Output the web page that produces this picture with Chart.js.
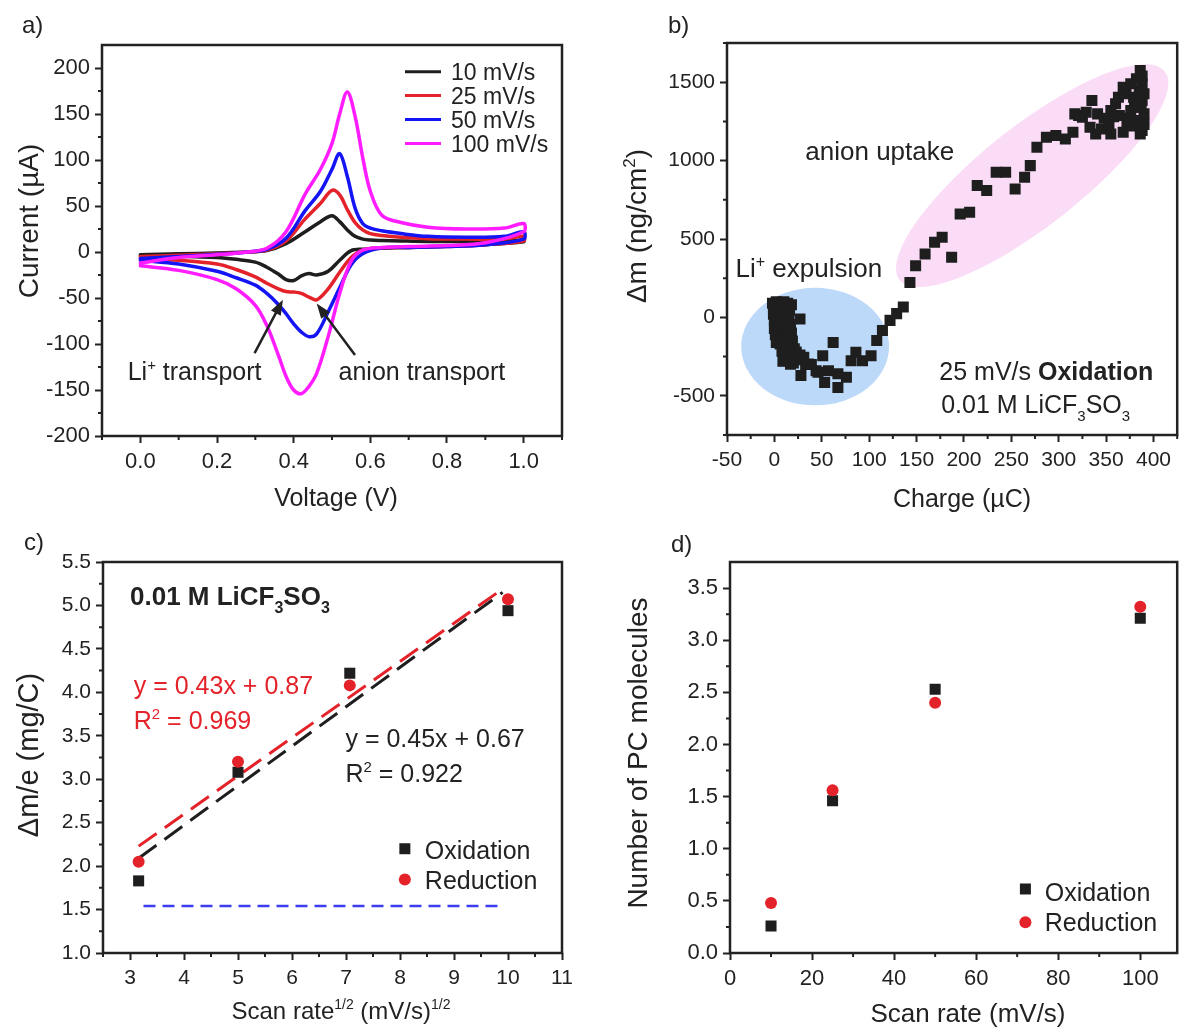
<!DOCTYPE html>
<html lang="en">
<head>
<meta charset="UTF-8">
<title>LiCF3SO3 EQCM panels</title>
<script src="https://cdn.jsdelivr.net/npm/chart.js"></script>
<style>
  body { margin: 0; background: #fff; font-family: 'Liberation Sans', Arial, sans-serif; color: #222; }
  .page { position: relative; width: 1185px; height: 1027px; overflow: hidden; }
  .page canvas { position: absolute; }
  .tag { position: absolute; font-size: 24px; line-height: 24px; }
</style>
</head>
<body>
<div class="page">
  <canvas id="cvChart" width="590" height="520" style="left:0;top:0"></canvas>
  <canvas id="massChart" width="590" height="520" style="left:595px;top:0"></canvas>
  <canvas id="slopeChart" width="590" height="507" style="left:0;top:520px"></canvas>
  <canvas id="pcChart" width="590" height="507" style="left:595px;top:520px"></canvas>
  <div class="tag" style="left:22px;top:13px">a)</div>
  <div class="tag" style="left:668px;top:13px">b)</div>
  <div class="tag" style="left:24px;top:530px">c)</div>
  <div class="tag" style="left:671px;top:532px">d)</div>
</div>

<script>
// ---- a) cyclic voltammograms: forward sweep then reverse sweep ----
const sweepUp   = [0, 0.1, 0.2, 0.28, 0.33, 0.38, 0.43, 0.47, 0.50, 0.52, 0.54, 0.56, 0.58, 0.60, 0.63, 0.68, 0.75, 0.85, 0.95, 1.0];
const sweepDown = [1.0, 0.9, 0.8, 0.7, 0.63, 0.58, 0.55, 0.52, 0.49, 0.46, 0.44, 0.42, 0.40, 0.38, 0.36, 0.33, 0.30, 0.25, 0.2, 0.1, 0];
const cvRates  = ['10 mV/s', '25 mV/s', '50 mV/s', '100 mV/s'];
const up10    = [-3, -2, -1, 0, 1.5, 9, 22, 33, 39.5, 33, 24, 17, 14, 13, 12.5, 12, 11.5, 11.5, 12, 13];
const down10  = [11, 8, 6.5, 5, 4, 3, 1.5, -9, -21, -25, -23.5, -26, -31, -30, -24, -16.5, -11, -8, -6, -4.5, -4];
const up25    = [-5, -3.5, -2, 0, 2, 12, 36, 53, 67, 62, 46, 32, 24, 20, 18, 16, 14.5, 14, 14, 17];
const down25  = [12, 8, 6, 5, 4.5, 2, -6, -22, -40, -52, -49, -45, -43.5, -43, -40, -34, -27, -19, -13, -9, -7.5];
const up50    = [-7, -5, -2.5, 0, 3, 15, 45, 66, 90, 107, 82, 48, 31, 26, 23, 20, 17, 16, 17, 22];
const down50  = [14, 8, 6, 5, 4.5, -2, -14, -39, -65, -89, -92, -87, -78, -67, -57, -45, -36, -28, -21, -13, -9];
const up100   = [-12, -6, -3, 0, 4, 22, 63, 90, 118, 150, 174, 148, 103, 66, 40, 32, 27, 25, 26, 31];
const down100 = [22, 10, 7, 6, 5, 2, -10, -45, -92, -132, -146, -154, -150, -135, -112, -80, -58, -40, -30, -20, -15];
const aXTicks = [0, 0.2, 0.4, 0.6, 0.8, 1.0];
const aYTicks = [-200, -150, -100, -50, 0, 50, 100, 150, 200];

// ---- b) mass change vs charge, 25 mV/s oxidation ----
const charge = [-2, 2, 6, 10, 14, 18, -1, 3, 8, 12, 16, -1, 3, 7, 11, 15, 27, 0, 4, 8, 13, 17, 0, 4, 9, 14, 18, 1, 5, 10,
  15, 19, 2, 6, 11, 16, 21, 8, 13, 18, 23, 27, 9, 14, 20, 25, 31, 17, 11, 22,
  28, 33, 39, 36, 44, 46, 51, 57, 53, 62, 67, 67, 76, 81, 86, 93, 102, 108, 114, 122, 129, 136,
  143, 149, 159, 169, 177, 187, 196, 206, 214, 224, 234, 244, 254, 264, 270, 277, 287, 297, 307, 315,
  321, 329, 335, 341, 345, 353, 360, 368, 376, 382, 386, 388, 388, 390, 388, 380, 376, 372, 368, 384,
  390, 386, 364, 355, 339, 333, 325, 317, 355, 363, 371, 379, 384, 388, 385, 374, 379, 348, 358, 390, 387];
const deltaM = [90, 100, 95, 100, 90, 80, 60, 55, 60, 50, 45, 20, 15, 25, 10, 5, -10, -20, -30, -40, -35, -45, -70, -80, -75, -90, -100, -110, -120, -130,
  -140, -150, -160, -170, -175, -190, -200, -215, -225, -235, -220, -240, -280, -275, -290, -270, -255, -298, -277, -240,
  -370, -300, -300, -298, -340, -350, -245, -340, -415, -160, -360, -447, -382, -276, -222, -276, -244, -147, -83, -19, 24, 66,
  223, 330, 404, 479, 511, 383, 660, 670, 841, 809, 926, 926, 819, 894, 968, 1085, 1149, 1160, 1138, 1181,
  1287, 1309, 1383, 1298, 1202, 1224, 1362, 1468, 1490, 1522, 1575, 1490, 1383, 1298, 1192, 1383, 1319, 1234, 1181, 1255,
  1426, 1170, 1287, 1170, 1170, 1213, 1277, 1298, 1319, 1404, 1426, 1404, 1340, 1540, 1450, 1270, 1220, 1270, 1280, 1230, 1340];
const bXTicks = [-50, 0, 50, 100, 150, 200, 250, 300, 350, 400];
const bYTicks = [-500, 0, 500, 1000, 1500];

// ---- c) mass per electron vs sqrt(scan rate) ----
const sqrtRate = [3.16, 5.0, 7.07, 10.0];
const oxSlope  = [1.83, 3.08, 4.22, 4.94];
const redSlope = [2.05, 3.20, 4.08, 5.07];
const fitX     = [3.16, 9.9];
const fitRed   = [2.23, 5.19];
const fitOx    = [2.09, 5.15];
const limitX   = [3.25, 9.88];
const limitY   = [1.54, 1.54];
const cXTicks = [3, 4, 5, 6, 7, 8, 9, 10, 11];
const cYTicks = [1.0, 1.5, 2.0, 2.5, 3.0, 3.5, 4.0, 4.5, 5.0, 5.5];

// ---- d) PC molecules vs scan rate ----
const scanRate = [10, 25, 50, 100];
const oxPC     = [0.26, 1.46, 2.53, 3.21];
const redPC    = [0.48, 1.56, 2.40, 3.32];
const dXTicks = [0, 20, 40, 60, 80, 100];
const dYTicks = [0, 0.5, 1.0, 1.5, 2.0, 2.5, 3.0, 3.5];

const INK = '#222222';
const RED = '#e4222a';
const FONT = "'Liberation Sans', Arial, Helvetica, sans-serif";
const cvColors = ['#1e1e1e', '#e4222a', '#1414f5', '#ff1cff'];
Chart.defaults.font.family = FONT;
Chart.defaults.color = INK;

const mids = (arr, lo, hi) => {
  const step = arr[1] - arr[0], out = [];
  for (let v = arr[0] - step / 2; v <= hi + 1e-9; v += step) if (v >= lo - 1e-9) out.push(+v.toFixed(4));
  return out;
};

// text with bold / sub / sup runs
function rich(ctx, parts, x, y, size, opt = {}) {
  const segs = parts.map(p => {
    if (typeof p === 'string') p = {t: p};
    const small = p.sub || p.sup;
    const fs = small ? Math.round(size * 0.6) : size;
    const font = (p.b ? 'bold ' : '') + fs + 'px ' + FONT;
    ctx.font = font;
    return {t: p.t, font, w: ctx.measureText(p.t).width, dy: p.sub ? size * 0.3 : p.sup ? -size * 0.4 : 0};
  });
  const total = segs.reduce((s, g) => s + g.w, 0);
  let cx = opt.align === 'center' ? x - total / 2 : x;
  ctx.save();
  ctx.fillStyle = opt.color || INK;
  ctx.textAlign = 'left';
  ctx.textBaseline = 'alphabetic';
  segs.forEach(g => { ctx.font = g.font; ctx.fillText(g.t, cx, y + g.dy); cx += g.w; });
  ctx.restore();
}
function xTitle(ctx, parts, cx, cy, size) { rich(ctx, parts, cx, cy + size * 0.36, size, {align: 'center'}); }
function yTitle(ctx, parts, cx, cy, size) {
  ctx.save();
  ctx.translate(cx, cy);
  ctx.rotate(-Math.PI / 2);
  rich(ctx, parts, 0, size * 0.36, size, {align: 'center'});
  ctx.restore();
}
function arrow(ctx, x1, y1, x2, y2) {
  const a = Math.atan2(y2 - y1, x2 - x1), L = 15, W = 5.5;
  const c = Math.cos(a), s = Math.sin(a);
  ctx.save();
  ctx.strokeStyle = INK; ctx.fillStyle = INK; ctx.lineWidth = 2.5;
  ctx.beginPath(); ctx.moveTo(x1, y1); ctx.lineTo(x2 - L * 0.8 * c, y2 - L * 0.8 * s); ctx.stroke();
  ctx.beginPath(); ctx.moveTo(x2, y2);
  ctx.lineTo(x2 - L * c + W * s, y2 - L * s - W * c);
  ctx.lineTo(x2 - L * c - W * s, y2 - L * s + W * c);
  ctx.closePath(); ctx.fill();
  ctx.restore();
}
function marker(ctx, style, x, y, color) {
  ctx.save();
  ctx.fillStyle = color;
  ctx.beginPath();
  if (style === 'rect') ctx.rect(x - 5.5, y - 5.5, 11, 11); else ctx.arc(x, y, 6, 0, Math.PI * 2);
  ctx.fill();
  ctx.restore();
}

// box frame + short minor ticks
Chart.register({
  id: 'frame',
  afterDraw(chart, args, opts) {
    const {ctx, chartArea: a, scales} = chart;
    ctx.save();
    ctx.strokeStyle = INK;
    ctx.lineWidth = 2.5;
    ctx.strokeRect(a.left, a.top, a.right - a.left, a.bottom - a.top);
    ctx.lineWidth = 2;
    ctx.beginPath();
    (opts.xMinor || []).forEach(v => { const x = scales.x.getPixelForValue(v); ctx.moveTo(x, a.bottom); ctx.lineTo(x, a.bottom + 4); });
    (opts.yMinor || []).forEach(v => { const y = scales.y.getPixelForValue(v); ctx.moveTo(a.left, y); ctx.lineTo(a.left - 4, y); });
    ctx.stroke();
    ctx.restore();
  }
});

function axis(pos, min, max, ticks, fmt, size, fontSize) {
  return {
    type: 'linear', position: pos, min, max,
    afterBuildTicks: s => { s.ticks = ticks.map(v => ({value: v})); },
    afterFit: s => { if (pos === 'left') s.width = size; else s.height = size; },
    border: {display: false},
    grid: {drawOnChartArea: false, drawTicks: true, tickLength: 7, tickWidth: 2, tickColor: INK},
    ticks: {font: {size: fontSize}, color: INK, padding: pos === 'left' ? 5 : 6, autoSkip: false, maxRotation: 0, callback: fmt},
    title: {display: false}
  };
}

function makeChart(id, area, datasets, xs, ys, frame, deco) {
  const el = document.getElementById(id);
  return new Chart(el, {
    type: 'scatter',
    data: {datasets},
    options: {
      responsive: false,
      animation: false,
      devicePixelRatio: 1,
      events: [],
      layout: {padding: {left: 0, top: area.top, right: el.width - area.right, bottom: 0}},
      scales: {
        x: axis('bottom', xs.min, xs.max, xs.ticks, xs.fmt, el.height - area.bottom, xs.font),
        y: axis('left', ys.min, ys.max, ys.ticks, ys.fmt, area.left, ys.font)
      },
      plugins: {legend: {display: false}, tooltip: {enabled: false}, frame}
    },
    plugins: [{
      id: 'deco',
      beforeDatasetsDraw: c => deco.before && deco.before(c, c.ctx, v => c.scales.x.getPixelForValue(v), v => c.scales.y.getPixelForValue(v)),
      afterDraw: c => deco.after && deco.after(c, c.ctx, v => c.scales.x.getPixelForValue(v), v => c.scales.y.getPixelForValue(v))
    }]
  });
}

const f1 = v => v.toFixed(1);
const f0 = v => String(v);

// a)
const cvPairs = [[up10, down10], [up25, down25], [up50, down50], [up100, down100]];
makeChart('cvChart', {left: 102, top: 45, right: 562, bottom: 436},
  cvPairs.map(([u, d], i) => ({
    label: cvRates[i],
    data: sweepUp.map((v, k) => ({x: v, y: u[k]})).concat(sweepDown.map((v, k) => ({x: v, y: d[k]}))),
    showLine: true, borderColor: cvColors[i], borderWidth: 3.5, pointRadius: 0,
    tension: 0.35, borderJoinStyle: 'round', borderCapStyle: 'round', order: 3 - i
  })),
  {min: -0.1, max: 1.1, ticks: aXTicks, fmt: f1, font: 22},
  {min: -200, max: 225, ticks: aYTicks, fmt: f0, font: 22},
  {xMinor: mids(aXTicks, -0.1, 1.1), yMinor: mids(aYTicks, -200, 224)},
  {
    after(c, ctx, X, Y) {
      cvRates.forEach((lab, i) => {
        const yy = 71.7 + 23.9 * i;
        ctx.save();
        ctx.strokeStyle = cvColors[i]; ctx.lineWidth = 3;
        ctx.beginPath(); ctx.moveTo(405, yy); ctx.lineTo(441, yy); ctx.stroke();
        ctx.restore();
        rich(ctx, [lab], 451, yy + 8.3, 23);
      });
      arrow(ctx, X(0.298), Y(-110), X(0.372), Y(-52));
      arrow(ctx, X(0.560), Y(-112), X(0.460), Y(-56));
      rich(ctx, ['Li', {t: '+', sup: true}, ' transport'], X(-0.033), Y(-139), 25);
      rich(ctx, ['anion transport'], X(0.517), Y(-139), 25);
      yTitle(ctx, ['Current (\u00b5A)'], 28, 221, 28);
      xTitle(ctx, ['Voltage (V)'], 336, 497, 25);
    }
  });

// b)
makeChart('massChart', {left: 132, top: 43, right: 589, bottom: 435},
  [{
    label: 'Oxidation',
    data: charge.map((q, i) => ({x: q, y: deltaM[i]})),
    pointStyle: 'rect', pointRadius: 7.8, backgroundColor: '#1e1e1e', borderWidth: 0
  }],
  {min: -50, max: 425, ticks: bXTicks, fmt: f0, font: 21},
  {min: -750, max: 1750, ticks: bYTicks, fmt: f0, font: 21},
  {xMinor: mids(bXTicks, -50, 425), yMinor: mids(bYTicks, -750, 1750)},
  {
    before(c, ctx, X, Y) {
      ctx.save();
      ctx.fillStyle = '#bdd9fa';
      ctx.beginPath();
      ctx.ellipse(X(43), Y(-186), X(43 + 78) - X(43), Y(-186) - Y(-186 + 375), 0, 0, Math.PI * 2);
      ctx.fill();
      const cx = X(272), cy = Y(904), ex = X(412), ey = Y(1569);
      ctx.fillStyle = '#fbdcf7';
      ctx.beginPath();
      ctx.ellipse(cx, cy, Math.hypot(ex - cx, ey - cy), 50, Math.atan2(ey - cy, ex - cx), 0, Math.PI * 2);
      ctx.fill();
      ctx.restore();
    },
    after(c, ctx, X, Y) {
      rich(ctx, ['anion uptake'], X(32.6), Y(1001), 26);
      rich(ctx, ['Li', {t: '+', sup: true}, ' expulsion'], X(-41), Y(256), 26);
      rich(ctx, ['25 mV/s ', {t: 'Oxidation', b: true}], X(174), Y(-400), 25);
      rich(ctx, ['0.01 M LiCF', {t: '3', sub: true}, 'SO', {t: '3', sub: true}], X(176), Y(-611), 25);
      yTitle(ctx, ['\u0394m (ng/cm', {t: '2', sup: true}, ')'], 41, 226, 28);
      xTitle(ctx, ['Charge (\u00b5C)'], 367, 498, 25);
    }
  });

// c)
makeChart('slopeChart', {left: 103, top: 42, right: 562, bottom: 433},
  [
    {label: 'Reduction', data: sqrtRate.map((x, i) => ({x, y: redSlope[i]})), pointStyle: 'circle', pointRadius: 6, backgroundColor: RED, borderWidth: 0},
    {label: 'Oxidation', data: sqrtRate.map((x, i) => ({x, y: oxSlope[i]})), pointStyle: 'rect', pointRadius: 7.8, backgroundColor: '#1e1e1e', borderWidth: 0},
    {label: 'fit red', data: fitX.map((x, i) => ({x, y: fitRed[i]})), showLine: true, pointRadius: 0, borderColor: RED, borderWidth: 3, borderDash: [22, 10]},
    {label: 'fit ox', data: fitX.map((x, i) => ({x, y: fitOx[i]})), showLine: true, pointRadius: 0, borderColor: '#1e1e1e', borderWidth: 3, borderDash: [22, 10]},
    {label: 'limit', data: limitX.map((x, i) => ({x, y: limitY[i]})), showLine: true, pointRadius: 0, borderColor: '#3c3cf0', borderWidth: 2.5, borderDash: [12, 7]}
  ],
  {min: 2.5, max: 11, ticks: cXTicks, fmt: f0, font: 21},
  {min: 1.0, max: 5.5, ticks: cYTicks, fmt: f1, font: 21},
  {xMinor: mids(cXTicks, 2.5, 11), yMinor: mids(cYTicks, 1.0, 5.5)},
  {
    after(c, ctx, X, Y) {
      rich(ctx, [{t: '0.01 M LiCF', b: true}, {t: '3', b: true, sub: true}, {t: 'SO', b: true}, {t: '3', b: true, sub: true}], X(3.0), Y(5.0), 26);
      rich(ctx, ['y = 0.43x + 0.87'], X(3.07), Y(3.985), 25, {color: RED});
      rich(ctx, ['R', {t: '2', sup: true}, ' = 0.969'], X(3.07), Y(3.58), 25, {color: RED});
      rich(ctx, ['y = 0.45x + 0.67'], X(6.99), Y(3.37), 25);
      rich(ctx, ['R', {t: '2', sup: true}, ' = 0.922'], X(6.99), Y(2.97), 25);
      marker(ctx, 'rect', X(8.09), Y(2.20), '#1e1e1e');
      rich(ctx, ['Oxidation'], X(8.46), Y(2.086), 25);
      marker(ctx, 'circle', X(8.09), Y(1.845), RED);
      rich(ctx, ['Reduction'], X(8.46), Y(1.74), 25);
      yTitle(ctx, ['\u0394m/e (mg/C)'], 28, 235, 29);
      xTitle(ctx, ['Scan rate', {t: '1/2', sup: true}, ' (mV/s)', {t: '1/2', sup: true}], 341, 490, 24);
    }
  });

// d)
makeChart('pcChart', {left: 135, top: 42, right: 589, bottom: 433},
  [
    {label: 'Reduction', data: scanRate.map((x, i) => ({x, y: redPC[i]})), pointStyle: 'circle', pointRadius: 6, backgroundColor: RED, borderWidth: 0},
    {label: 'Oxidation', data: scanRate.map((x, i) => ({x, y: oxPC[i]})), pointStyle: 'rect', pointRadius: 7.8, backgroundColor: '#1e1e1e', borderWidth: 0}
  ],
  {min: 0, max: 109, ticks: dXTicks, fmt: f0, font: 22},
  {min: 0, max: 3.75, ticks: dYTicks, fmt: f1, font: 22},
  {xMinor: mids(dXTicks, 0, 109), yMinor: mids(dYTicks, 0, 3.7)},
  {
    after(c, ctx, X, Y) {
      marker(ctx, 'rect', X(72), Y(0.614), '#1e1e1e');
      rich(ctx, ['Oxidation'], X(76.7), Y(0.503), 25);
      marker(ctx, 'circle', X(72), Y(0.296), RED);
      rich(ctx, ['Reduction'], X(76.7), Y(0.21), 25);
      yTitle(ctx, ['Number of PC molecules'], 42, 233, 28);
      xTitle(ctx, ['Scan rate (mV/s)'], 373, 493, 26);
    }
  });
</script>
</body>
</html>
